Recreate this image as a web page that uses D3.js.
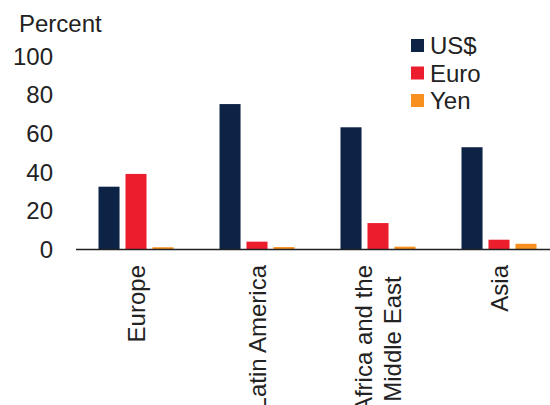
<!DOCTYPE html>
<html><head><meta charset="utf-8">
<script src="https://cdn.jsdelivr.net/npm/d3@7"></script>
<style>
html,body{margin:0;padding:0;background:#fff;}
svg{display:block;font-family:"Liberation Sans",Arial,sans-serif;}
</style></head>
<body>
<svg id="c" width="550" height="405"></svg>
<script>
const categories = [["Europe"], ["Latin America"], ["Africa and the", "Middle East"], ["Asia"]];
const seriesNames = ["US$", "Euro", "Yen"];
const usd  = [32.2, 74.9, 62.9, 52.6];
const euro = [38.8, 3.8, 13.4, 4.8];
const yen  = [0.9, 1.0, 1.2, 2.7];
const yTicks = [0, 20, 40, 60, 80, 100];
const colors = ["#0c2345", "#ec1e2e", "#f7901e"];

const series = [usd, euro, yen];
const svg = d3.select("#c");
const fs = "24px";

const x = d3.scaleBand().domain(d3.range(categories.length)).range([75.5, 559.5]).paddingInner(0).paddingOuter(0);
const xi = d3.scaleBand().domain(d3.range(seriesNames.length)).range([x.bandwidth()/2 - 37.5, x.bandwidth()/2 + 37.5]).paddingInner(0.22);
const y = d3.scaleLinear().domain([0, 100]).range([249, 55.5]);

// bars
series.forEach((vals, s) => {
  svg.append("g").selectAll("rect").data(vals).join("rect")
    .attr("x", (d, i) => x(i) + xi(s))
    .attr("width", xi.bandwidth())
    .attr("y", d => y(d))
    .attr("height", d => y(0) - y(d))
    .attr("fill", colors[s]);
});

// y axis labels
const yAxis = d3.axisLeft(y).tickValues(yTicks).tickSize(0).tickPadding(0);
const yg = svg.append("g").attr("transform", "translate(53,0)").call(yAxis);
yg.select(".domain").remove();
yg.selectAll("text").attr("font-size", fs).attr("font-family", "Liberation Sans, Arial, sans-serif").attr("fill", "#222").attr("dy", "0.36em");

// x axis line
const xg = svg.append("g").attr("transform", "translate(0,249)")
  .call(d3.axisBottom(x).tickSize(0).tickFormat(""));
xg.select(".domain").attr("stroke", "#222").attr("stroke-width", 1.3);
xg.selectAll(".tick").remove();

// x labels
categories.forEach((lines, i) => {
  const cx = x(i) + x.bandwidth() / 2;
  const g = svg.append("g").attr("transform", `translate(${cx},265) rotate(-90)`);
  const n = lines.length;
  const lh = 28.5;
  const t = g.append("text").attr("font-size", fs).attr("fill", "#222");
  if (n === 1) {
    t.attr("text-anchor", "end").attr("x", 0).attr("y", 0).attr("dy", "0.36em").text(lines[0]);
  } else {
    const tmp = g.append("text").attr("font-size", fs).text(lines.reduce((a, b) => a.length > b.length ? a : b));
    const w = tmp.node().getComputedTextLength();
    tmp.remove();
    lines.forEach((ln, k) => {
      t.append("tspan").attr("text-anchor", "middle").attr("x", -w / 2)
        .attr("y", (k - (n - 1) / 2) * lh).attr("dy", "0.36em").text(ln);
    });
  }
});

// y title
svg.append("text").attr("x", 19).attr("y", 32).attr("font-size", fs).attr("fill", "#222").text("Percent");

// legend
const leg = svg.append("g");
seriesNames.forEach((nm, s) => {
  const cy = 45.5 + s * 27.5;
  leg.append("rect").attr("x", 411).attr("y", cy - 6.5).attr("width", 13).attr("height", 13).attr("fill", colors[s]);
  leg.append("text").attr("x", 430).attr("y", cy).attr("dy", "0.36em").attr("font-size", fs).attr("fill", "#222").text(nm);
});
</script>
</body></html>
